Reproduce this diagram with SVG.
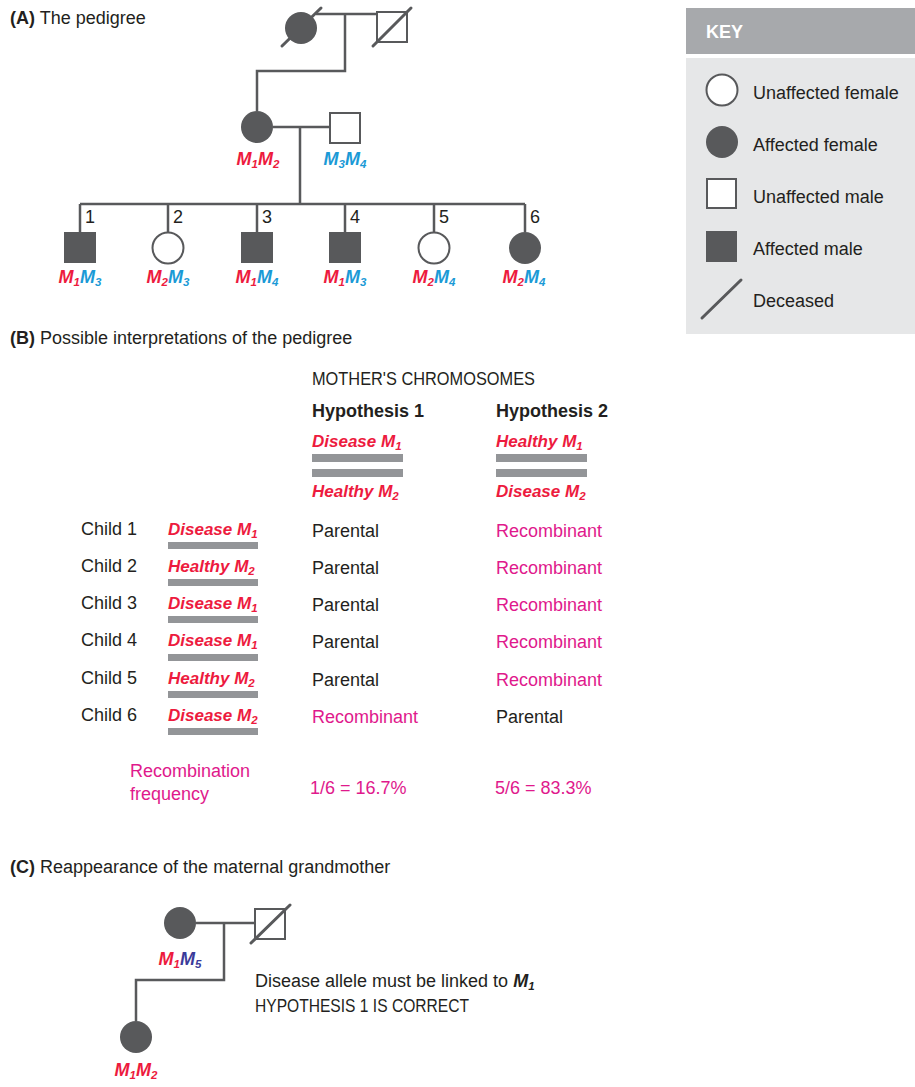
<svg xmlns="http://www.w3.org/2000/svg" width="915" height="1087" viewBox="0 0 915 1087">
<style>
.ln{stroke:#58595b;stroke-width:2.5;fill:none}
.sl{stroke:#58595b;stroke-width:3;fill:none;stroke-linecap:round}
.af{fill:#58595b}
.un{fill:#fff;stroke:#58595b;stroke-width:2}
.t{font-family:"Liberation Sans",Arial,sans-serif;font-size:18px;fill:#231f20}
.g{font-style:italic;font-weight:bold}
.h{font-size:17px}
.r{fill:#ed1b3e}
.b{fill:#1b9ad6}
.p{fill:#3b3b9a}
.m{fill:#e0198c}
.s{font-size:11.5px}
.bar{fill:#939598}
.bd{font-weight:bold}
</style>
<rect width="915" height="1087" fill="#fff"/>
<!-- Section A -->
<text class="t" x="10" y="24"><tspan class="bd">(A)</tspan> The pedigree</text>
<g id="connectors">
  <path class="ln" d="M316 14H377M345 14V71H257V111M273 127H330M300 127V204M80 204H525M80 204V232M168 204V232M257 204V232M345 204V232M434 204V232M525 204V232"/>
  <path class="ln" d="M196 923H255M224 923V980H136V1021"/>
</g>
<g id="grandmother"><circle class="af" cx="301" cy="28" r="16"/><line class="sl" x1="282" y1="46" x2="321" y2="8"/></g>
<g id="grandfather"><rect class="un" x="377" y="12" width="30" height="30"/><line class="sl" x1="373" y1="46" x2="411" y2="8"/></g>
<g id="mother"><circle class="af" cx="257" cy="127" r="16"/>
<text class="t g" x="258" y="165" text-anchor="middle"><tspan class="r">M</tspan><tspan class="r s" dy="3">1</tspan><tspan class="r" dy="-3">M</tspan><tspan class="r s" dy="3">2</tspan></text></g>
<g id="father"><rect class="un" x="330" y="113" width="30" height="30"/>
<text class="t g" x="345" y="165" text-anchor="middle"><tspan class="b">M</tspan><tspan class="b s" dy="3">3</tspan><tspan class="b" dy="-3">M</tspan><tspan class="b s" dy="3">4</tspan></text></g>
<g id="child1"><rect class="af" x="64" y="232" width="32" height="31"/><text class="t" x="85" y="223">1</text>
<text class="t g" x="80" y="283" text-anchor="middle"><tspan class="r">M</tspan><tspan class="r s" dy="3">1</tspan><tspan class="b" dy="-3">M</tspan><tspan class="b s" dy="3">3</tspan></text></g>
<g id="child2"><circle class="un" cx="168" cy="248" r="15.5"/><text class="t" x="173" y="223">2</text>
<text class="t g" x="168" y="283" text-anchor="middle"><tspan class="r">M</tspan><tspan class="r s" dy="3">2</tspan><tspan class="b" dy="-3">M</tspan><tspan class="b s" dy="3">3</tspan></text></g>
<g id="child3"><rect class="af" x="241" y="232" width="32" height="31"/><text class="t" x="262" y="223">3</text>
<text class="t g" x="257" y="283" text-anchor="middle"><tspan class="r">M</tspan><tspan class="r s" dy="3">1</tspan><tspan class="b" dy="-3">M</tspan><tspan class="b s" dy="3">4</tspan></text></g>
<g id="child4"><rect class="af" x="329" y="232" width="32" height="31"/><text class="t" x="350" y="223">4</text>
<text class="t g" x="345" y="283" text-anchor="middle"><tspan class="r">M</tspan><tspan class="r s" dy="3">1</tspan><tspan class="b" dy="-3">M</tspan><tspan class="b s" dy="3">3</tspan></text></g>
<g id="child5"><circle class="un" cx="434" cy="248" r="15.5"/><text class="t" x="439" y="223">5</text>
<text class="t g" x="434" y="283" text-anchor="middle"><tspan class="r">M</tspan><tspan class="r s" dy="3">2</tspan><tspan class="b" dy="-3">M</tspan><tspan class="b s" dy="3">4</tspan></text></g>
<g id="child6"><circle class="af" cx="525" cy="248" r="16"/><text class="t" x="530" y="223">6</text>
<text class="t g" x="524" y="283" text-anchor="middle"><tspan class="r">M</tspan><tspan class="r s" dy="3">2</tspan><tspan class="b" dy="-3">M</tspan><tspan class="b s" dy="3">4</tspan></text></g>
<!-- Key -->
<g id="key">
  <rect x="686" y="8" width="229" height="46" fill="#a7a9ac"/>
  <text class="t bd" x="706" y="38" style="fill:#fff">KEY</text>
  <rect x="686" y="58" width="229" height="276" fill="#e6e7e8"/>
  <circle class="un" cx="722" cy="90" r="15.5"/><text class="t" x="753" y="99">Unaffected female</text>
  <circle class="af" cx="722" cy="142" r="16"/><text class="t" x="753" y="151">Affected female</text>
  <rect class="un" x="707" y="179" width="29" height="29"/><text class="t" x="753" y="203">Unaffected male</text>
  <rect class="af" x="706" y="231" width="31" height="31"/><text class="t" x="753" y="255">Affected male</text>
  <line class="sl" x1="702" y1="318" x2="741" y2="280"/><text class="t" x="753" y="307">Deceased</text>
</g>
<!-- Section B -->
<text class="t" x="10" y="344"><tspan class="bd">(B)</tspan> Possible interpretations of the pedigree</text>
<g id="hypotheses">
  <text class="t" x="312" y="385" textLength="223" lengthAdjust="spacingAndGlyphs">MOTHER'S CHROMOSOMES</text>
  <text class="t bd" x="312" y="417">Hypothesis 1</text>
  <text class="t bd" x="496" y="417">Hypothesis 2</text>
  <text class="t h g r" x="312" y="447">Disease M<tspan class="s" dy="3">1</tspan></text>
  <rect class="bar" x="312" y="454" width="91" height="8"/>
  <rect class="bar" x="312" y="469" width="91" height="8"/>
  <text class="t h g r" x="312" y="497">Healthy M<tspan class="s" dy="3">2</tspan></text>
  <text class="t h g r" x="496" y="447">Healthy M<tspan class="s" dy="3">1</tspan></text>
  <rect class="bar" x="496" y="454" width="91" height="8"/>
  <rect class="bar" x="496" y="469" width="91" height="8"/>
  <text class="t h g r" x="496" y="497">Disease M<tspan class="s" dy="3">2</tspan></text>
</g>
<g id="rows">
  <text class="t" x="81" y="535">Child 1</text><text class="t h g r" x="168" y="535">Disease M<tspan class="s" dy="3">1</tspan></text><rect class="bar" x="168" y="542" width="90" height="7"/><text class="t" x="312" y="537">Parental</text><text class="t m" x="496" y="537">Recombinant</text>
  <text class="t" x="81" y="572">Child 2</text><text class="t h g r" x="168" y="572">Healthy M<tspan class="s" dy="3">2</tspan></text><rect class="bar" x="168" y="579" width="90" height="7"/><text class="t" x="312" y="574">Parental</text><text class="t m" x="496" y="574">Recombinant</text>
  <text class="t" x="81" y="609">Child 3</text><text class="t h g r" x="168" y="609">Disease M<tspan class="s" dy="3">1</tspan></text><rect class="bar" x="168" y="616" width="90" height="7"/><text class="t" x="312" y="611">Parental</text><text class="t m" x="496" y="611">Recombinant</text>
  <text class="t" x="81" y="646">Child 4</text><text class="t h g r" x="168" y="646">Disease M<tspan class="s" dy="3">1</tspan></text><rect class="bar" x="168" y="654" width="90" height="7"/><text class="t" x="312" y="648">Parental</text><text class="t m" x="496" y="648">Recombinant</text>
  <text class="t" x="81" y="684">Child 5</text><text class="t h g r" x="168" y="684">Healthy M<tspan class="s" dy="3">2</tspan></text><rect class="bar" x="168" y="691" width="90" height="7"/><text class="t" x="312" y="686">Parental</text><text class="t m" x="496" y="686">Recombinant</text>
  <text class="t" x="81" y="721">Child 6</text><text class="t h g r" x="168" y="721">Disease M<tspan class="s" dy="3">2</tspan></text><rect class="bar" x="168" y="728" width="90" height="7"/><text class="t m" x="312" y="723">Recombinant</text><text class="t" x="496" y="723">Parental</text>
  <text class="t m" x="130" y="777">Recombination</text>
  <text class="t m" x="130" y="800">frequency</text>
  <text class="t m" x="310" y="794">1/6 = 16.7%</text>
  <text class="t m" x="495" y="794">5/6 = 83.3%</text>
</g>
<!-- Section C -->
<text class="t" x="10" y="873"><tspan class="bd">(C)</tspan> Reappearance of the maternal grandmother</text>
<g id="grandmother-c"><circle class="af" cx="180" cy="923" r="16"/>
<text class="t g" x="180" y="965" text-anchor="middle"><tspan class="r">M</tspan><tspan class="r s" dy="3">1</tspan><tspan class="p" dy="-3">M</tspan><tspan class="p s" dy="3">5</tspan></text></g>
<g id="grandfather-c"><rect class="un" x="255" y="909" width="30" height="30"/><line class="sl" x1="251" y1="943" x2="290" y2="905"/></g>
<g id="mother-c"><circle class="af" cx="136" cy="1037" r="16"/>
<text class="t g" x="136" y="1076" text-anchor="middle"><tspan class="r">M</tspan><tspan class="r s" dy="3">1</tspan><tspan class="r" dy="-3">M</tspan><tspan class="r s" dy="3">2</tspan></text></g>
<text class="t" x="255" y="987">Disease allele must be linked to <tspan class="g">M</tspan><tspan class="g s" dy="3">1</tspan></text>
<text class="t" x="255" y="1012" textLength="214" lengthAdjust="spacingAndGlyphs">HYPOTHESIS 1 IS CORRECT</text>
</svg>
